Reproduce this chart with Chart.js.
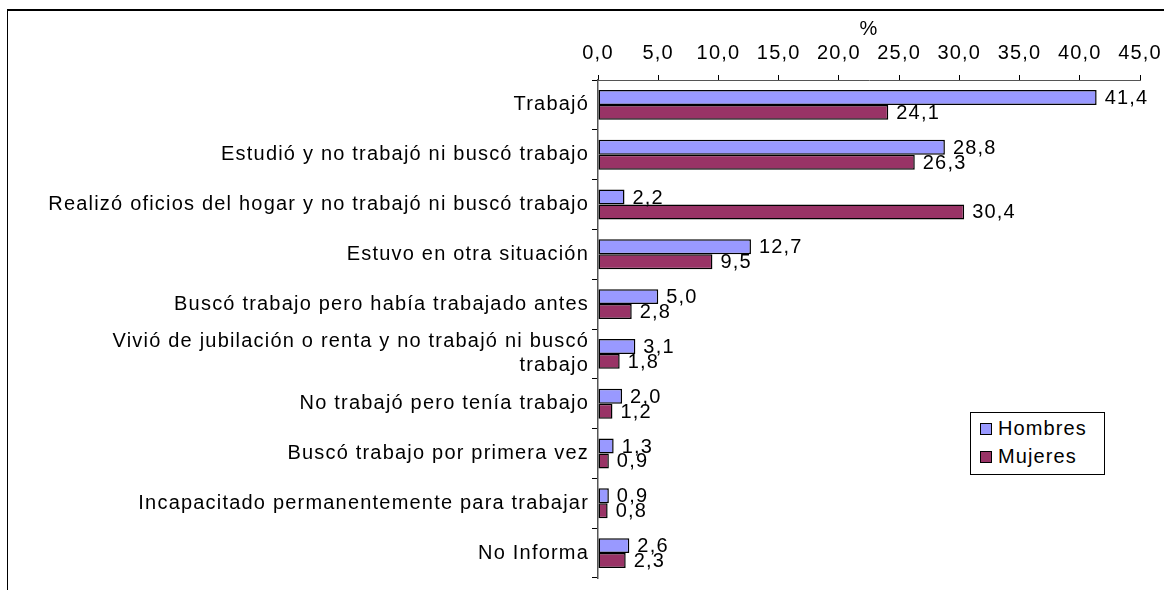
<!DOCTYPE html>
<html>
<head>
<meta charset="utf-8">
<script src="https://cdn.jsdelivr.net/npm/chart.js@4.4.1/dist/chart.umd.min.js"></script>
<style>
  body { margin: 0; background: #fff; }
  #wrap { position: relative; width: 1164px; height: 590px; overflow: hidden; }
  #frame { position: absolute; left: 7px; top: 9px; width: 1200px; height: 700px;
           border-top: 2px solid #000; border-left: 1.5px solid #000; }
  #legend { position: absolute; left: 970px; top: 412px; width: 133px; height: 61px;
            border: 1px solid #000; background: #fff; letter-spacing: 1.1px;
            font: 20px "Liberation Sans", Arial, sans-serif; color: #000; }
  .item { position: absolute; left: 9px; height: 22px; line-height: 22px; white-space: nowrap; }
  .item span.box { display: inline-block; width: 10px; height: 10px; border: 1px solid #000;
                   margin-right: 6px; vertical-align: 0px; }
</style>
</head>
<body>
<div id="wrap">
  <div id="frame"></div>
  <canvas id="chart" width="1164" height="590"></canvas>
  <div id="legend">
    <div class="item" style="top:4px"><span class="box" style="background:#9999FF"></span>Hombres</div>
    <div class="item" style="top:32px"><span class="box" style="background:#993366"></span>Mujeres</div>
  </div>
</div>
<script>
// categorias y valores (%)
const categorias = [
  "Trabajó",
  "Estudió y no trabajó ni buscó trabajo",
  "Realizó oficios del hogar y no trabajó ni buscó trabajo",
  "Estuvo en otra situación",
  "Buscó trabajo pero había trabajado antes",
  ["Vivió de jubilación o renta y no trabajó ni buscó", "trabajo"],
  "No trabajó pero tenía trabajo",
  "Buscó trabajo por primera vez",
  "Incapacitado permanentemente para trabajar",
  "No Informa"
];
const hombres = [41.4, 28.8, 2.2, 12.7, 5.0, 3.1, 2.0, 1.3, 0.9, 2.6];
const mujeres = [24.1, 26.3, 30.4, 9.5, 2.8, 1.8, 1.2, 0.9, 0.8, 2.3];
const ejeMin = 0, ejeMax = 45, paso = 5;

const fuente = { family: "'Liberation Sans', Arial, sans-serif", size: 20 };
const espaciado = '1.2px';
const coma = v => Number(v).toFixed(1).replace('.', ',');

// texto algo espaciado como en la imagen original
const espaciar = {
  id: 'espaciar',
  beforeUpdate(chart) { chart.ctx.letterSpacing = espaciado; },
  beforeDraw(chart) { chart.ctx.letterSpacing = espaciado; }
};

// etiquetas de valor al lado de cada barra
const etiquetas = {
  id: 'etiquetas',
  afterDatasetsDraw(chart) {
    const ctx = chart.ctx;
    ctx.save();
    ctx.font = fuente.size + "px " + fuente.family;
    ctx.fillStyle = "#000";
    ctx.textAlign = "left";
    ctx.textBaseline = "middle";
    chart.data.datasets.forEach((ds, i) => {
      chart.getDatasetMeta(i).data.forEach((bar, j) => {
        ctx.fillText(coma(ds.data[j]), bar.x + 8, bar.y + 1);
      });
    });
    ctx.restore();
  }
};

new Chart(document.getElementById('chart'), {
  type: 'bar',
  data: {
    labels: categorias,
    datasets: [
      { label: 'Hombres', data: hombres, backgroundColor: '#9999FF', borderColor: '#000', borderWidth: 1.5, borderSkipped: false },
      { label: 'Mujeres', data: mujeres, backgroundColor: '#993366', borderColor: '#000', borderWidth: 1.5, borderSkipped: false }
    ]
  },
  options: {
    indexAxis: 'y',
    responsive: false,
    animation: false,
    layout: { padding: { top: 10, right: 24, left: 0, bottom: 12 } },
    datasets: { bar: { categoryPercentage: 0.6, barPercentage: 1.0 } },
    plugins: { legend: { display: false }, tooltip: { enabled: false } },
    scales: {
      x: {
        position: 'top',
        min: ejeMin, max: ejeMax,
        afterFit: s => { s.height = 70; s.paddingLeft = 0; s.paddingRight = 0; },
        title: { display: true, text: '%', color: '#000', font: fuente, padding: { top: 7, bottom: 0 } },
        ticks: { stepSize: paso, color: '#000', font: fuente, padding: 10, callback: v => coma(v), maxRotation: 0 },
        grid: { drawOnChartArea: false, tickLength: 5, color: '#000' },
        border: { color: '#555', width: 1 }
      },
      y: {
        afterFit: s => { s.width = 598; s.paddingTop = 0; s.paddingBottom = 0; },
        ticks: { color: '#000', font: fuente, padding: 3, autoSkip: false },
        grid: { drawOnChartArea: false, tickLength: 6, color: '#000', offset: true },
        border: { color: '#555', width: 1.5 }
      }
    }
  },
  plugins: [espaciar, etiquetas]
});
</script>
</body>
</html>
